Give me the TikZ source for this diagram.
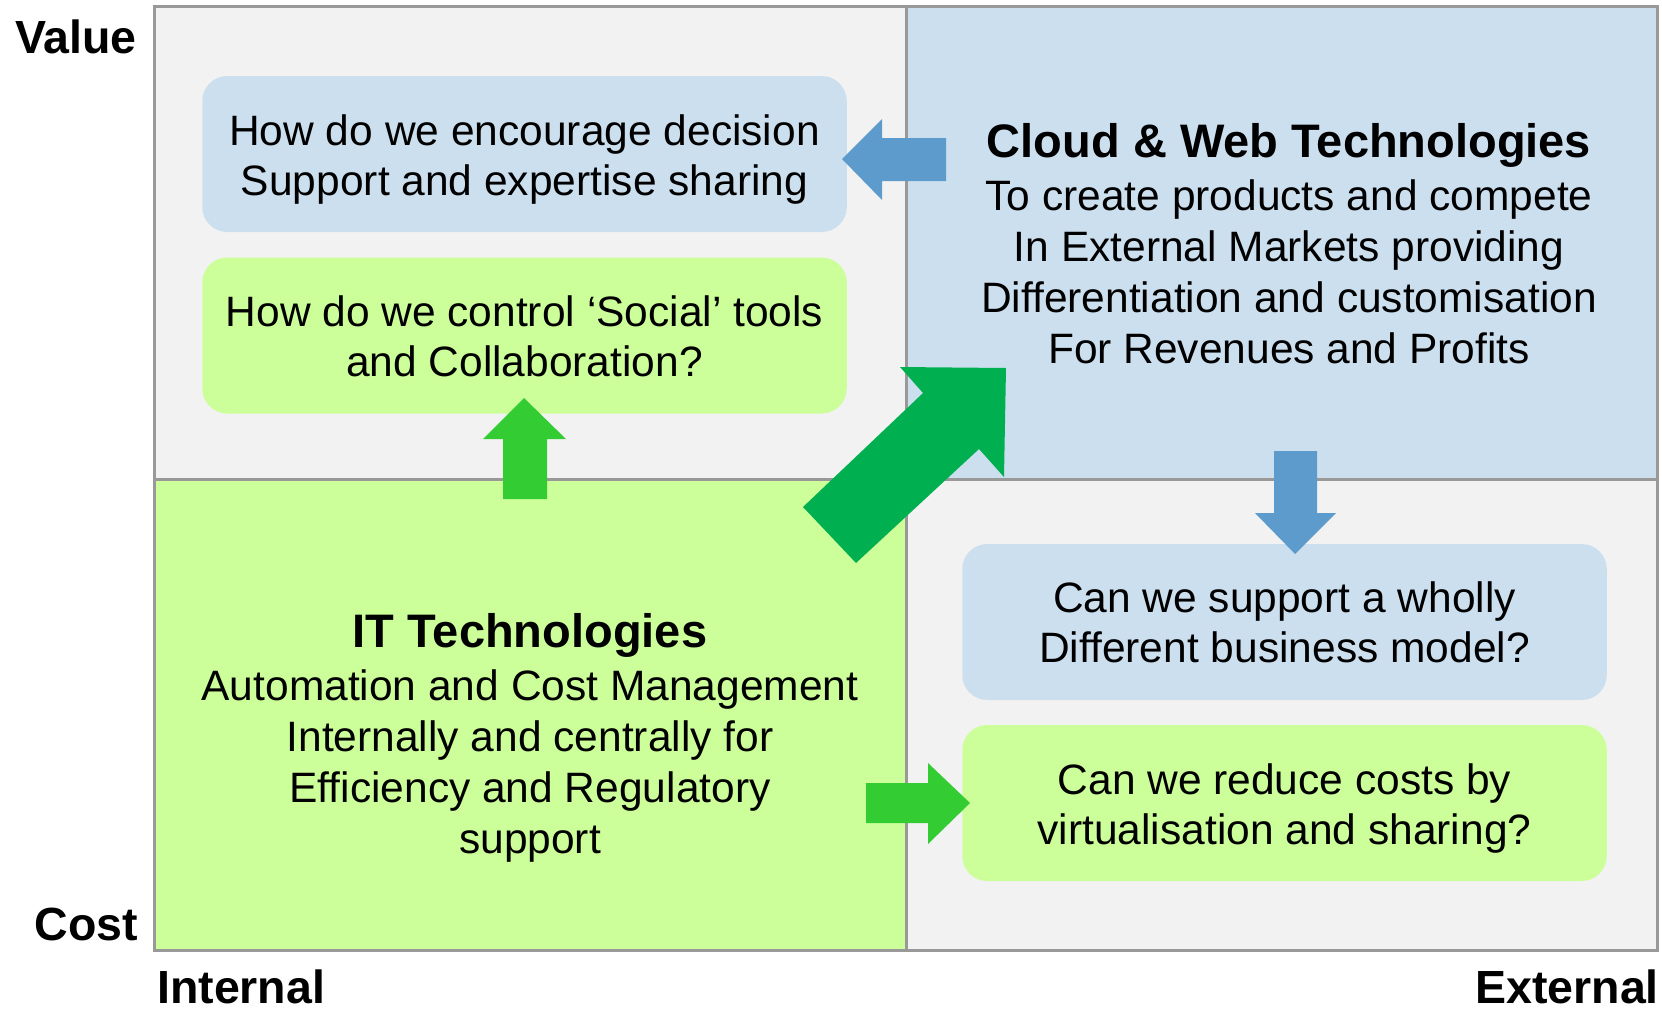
\documentclass[tikz,border=0pt]{standalone}
\usepackage{fontspec}
\setmainfont{Liberation Sans}
\definecolor{qgray}{RGB}{242,242,242}
\definecolor{qblue}{RGB}{204,223,238}
\definecolor{qgreen}{RGB}{204,255,153}
\definecolor{framegray}{RGB}{153,153,153}
\definecolor{arrblue}{RGB}{93,155,204}
\definecolor{arrgreen}{RGB}{51,204,51}
\definecolor{arrdark}{RGB}{0,176,80}
\newcommand\myBody{\fontsize{42.5pt}{51pt}\selectfont}
\newcommand\myBoxText{\fontsize{42.5pt}{50pt}\selectfont}
\newcommand\myTitle{\fontsize{47pt}{51pt}\selectfont\bfseries}
\newcommand\myAxis{\fontsize{46.5pt}{51pt}\selectfont\bfseries}
\begin{document}
\begin{tikzpicture}[x=1pt,y=-1pt,
  qbox/.style={draw=none,rounded corners=25pt,minimum width=644.5pt,minimum height=156pt,inner sep=0pt},
  bluebox/.style={qbox,fill=qblue},
  greenbox/.style={qbox,fill=qgreen},
  boxtext/.style={align=center,inner sep=0pt,font=\myBoxText},
  quadtext/.style={align=center,inner sep=0pt,font=\myBody},
  quadtitle/.style={inner sep=0pt,font=\myTitle,anchor=base},
  axislabel/.style={inner sep=0pt,font=\myAxis},
  framed/.style={draw=framegray,line width=3pt},
  blockarrow/.style={draw=none}
]
\useasboundingbox (0,0) rectangle (1662,1010);
% quadrants
\fill[qgray]  (154.5,6.5) rectangle (906,479);
\fill[qblue]  (906,6.5) rectangle (1657.5,479);
\fill[qgreen] (154.5,479) rectangle (906,950);
\fill[qgray]  (906,479) rectangle (1657.5,950);
\draw[framed] (906,6.5) -- (906,950);
\draw[framed] (154.5,479) -- (1657.5,479);
\draw[framed] (154.5,6.5) rectangle (1657.5,950);

% boxes
\node[bluebox]  (b1) at (524.5,154) {};
\node[greenbox] (b2) at (524.5,335.5) {};
\node[bluebox]  (b3) at (1284.5,622) {};
\node[greenbox] (b4) at (1284.5,803) {};
\node[boxtext] (t1) at (524.5,159.3) {How do we encourage decision\\Support and expertise sharing};
\node[boxtext] (t2) at (524.5,336.3) {How do we control ‘Social’ tools\\and Collaboration?};
\node[boxtext] (t3) at (1284.5,621.8) {Can we support a wholly\\Different business model?};
\node[boxtext] (t4) at (1284.5,808.4) {Can we reduce costs by\\virtualisation and sharing?};

% quadrant texts
\node[quadtitle] (cloudT) at (1289,157) {Cloud \& Web Technologies};
\node[quadtext] (cloudB) at (1289,271.5) {To create products and compete\\In External Markets providing\\Differentiation and customisation\\For Revenues and Profits};
\node[quadtitle] (itT) at (530,647) {IT Technologies};
\node[quadtext] (itB) at (530,766.3) {Automation and Cost Management\\Internally and centrally for\\Efficiency and Regulatory\\support};

% axis labels
\node[axislabel,anchor=base east] (value) at (137,53) {Value};
\node[axislabel,anchor=base east] (cost) at (138,940) {Cost};
\node[axislabel,anchor=base west] (internal) at (157,1003) {Internal};
\node[axislabel,anchor=base east] (external) at (1659,1003) {External};

% block arrows
\fill[arrblue] (842,159) -- (882,119) -- (882,138) -- (946,138) -- (946,181) -- (882,181) -- (882,200) -- cycle;
\fill[arrgreen] (524,398) -- (566,439) -- (547,439) -- (547,499) -- (503,499) -- (503,439) -- (483,439) -- cycle;
\fill[arrblue] (1274,451) -- (1317,451) -- (1317,513) -- (1336,513) -- (1295,554) -- (1255,513) -- (1274,513) -- cycle;
\fill[arrgreen] (866,783) -- (928,783) -- (928,763) -- (970,803) -- (928,844) -- (928,823) -- (866,823) -- cycle;
\fill[arrdark] (803,507) -- (923,393) -- (900,367) -- (1006,368) -- (1004,477) -- (979,449) -- (856,563) -- cycle;
\end{tikzpicture}
\end{document}
